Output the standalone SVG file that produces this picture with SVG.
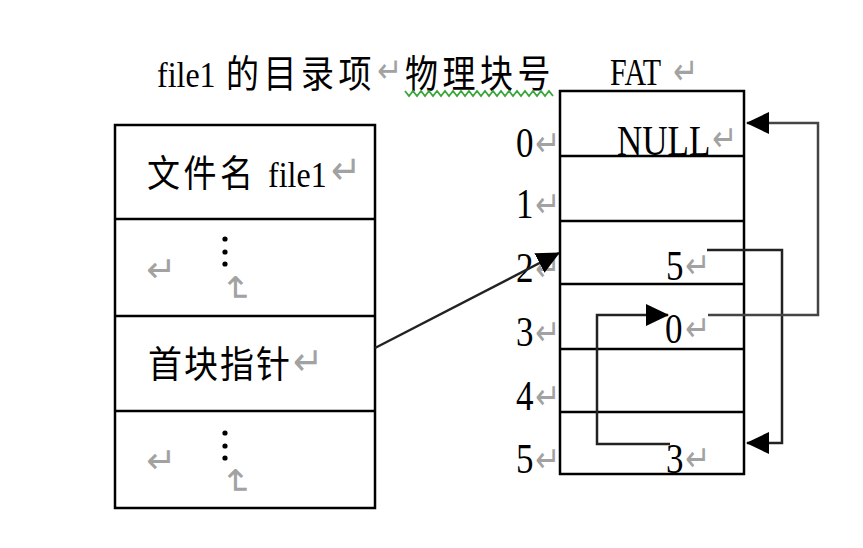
<svg xmlns="http://www.w3.org/2000/svg" width="863" height="548" viewBox="0 0 863 548">
<style>
.lat{font-family:"Liberation Serif","Times New Roman",serif;fill:#000}
.cjk{font-family:"Noto Sans CJK SC","Noto Sans CJK TC",sans-serif;fill:#000}
.ret{font-family:"DejaVu Sans",sans-serif;fill:#a2a2a2;font-size:36px}
.rs{font-size:30px}
.box{fill:none;stroke:#000;stroke-width:2.5}
.sep{stroke:#000;stroke-width:2.5}
.conn{fill:none;stroke:#222;stroke-width:2.5}
.dot{fill:#000}
</style>
<defs>
<marker id="ah" markerUnits="userSpaceOnUse" markerWidth="24" markerHeight="22" refX="22" refY="11" orient="auto">
<path d="M0,0 L23,11 L0,22 Z" fill="#000"/>
</marker>
</defs>
<rect width="863" height="548" fill="#fff"/>

<g id="title">
<text transform="translate(0,87) scale(1,1.15)">
<tspan class="lat" x="157" font-size="32">file1</tspan>
<tspan class="cjk" x="226" font-size="33" letter-spacing="4.5">的目录项</tspan>
<tspan class="ret rs" x="377" y="-4">↵</tspan>
<tspan class="cjk" x="405" y="0" font-size="33" letter-spacing="4.5">物理块号</tspan>
</text>
<polyline fill="none" stroke="#3aa63a" stroke-width="1.8" points="405,91 409,96 413,91 417,96 421,91 425,96 429,91 433,96 437,91 441,96 445,91 449,96 453,91 457,96 461,91 465,96 469,91 473,96 477,91 481,96 485,91 489,96 493,91 497,96 501,91 505,96 509,91 513,96 517,91 521,96 525,91 529,96 533,91 537,96 541,91 545,96 549,91 553,96"/>
</g>

<g id="dir-entry">
<rect class="box" x="115" y="125" width="260" height="383"/>
<line class="sep" x1="115" y1="219" x2="375" y2="219"/>
<line class="sep" x1="115" y1="316" x2="375" y2="316"/>
<line class="sep" x1="115" y1="411" x2="375" y2="411"/>
<text transform="translate(0,187) scale(1,1.12)">
<tspan class="cjk" x="147" font-size="33" letter-spacing="3.5">文件名</tspan>
<tspan class="lat" x="268" font-size="32">file1</tspan>
<tspan class="ret" x="331" y="-3">↵</tspan>
</text>
<text class="ret" x="146" y="282">↵</text>
<circle class="dot" cx="225" cy="239" r="2.6"/>
<circle class="dot" cx="225" cy="252" r="2.6"/>
<circle class="dot" cx="225" cy="264" r="2.6"/>
<text class="ret" transform="translate(224,274) rotate(90)">↵</text>
<text transform="translate(0,378) scale(1,1.1)">
<tspan class="cjk" x="148" font-size="34" letter-spacing="2">首块指针</tspan>
<tspan class="ret" x="293" y="-3">↵</tspan>
</text>
<text class="ret" x="146" y="473">↵</text>
<circle class="dot" cx="225" cy="433" r="2.6"/>
<circle class="dot" cx="225" cy="446" r="2.6"/>
<circle class="dot" cx="225" cy="458" r="2.6"/>
<text class="ret" transform="translate(224,467) rotate(90)">↵</text>
</g>

<g id="fat-labels">
<text transform="translate(0,85) scale(1,1.25)"><tspan class="lat" x="610" font-size="30">FAT</tspan><tspan class="ret rs" x="673" y="-1">↵</tspan></text>
<text transform="translate(0,157) scale(1,1.2)"><tspan class="lat" x="516" font-size="35">0</tspan><tspan class="ret rs" x="535" y="-1">↵</tspan></text>
<text transform="translate(0,218) scale(1,1.2)"><tspan class="lat" x="516" font-size="35">1</tspan><tspan class="ret rs" x="535" y="-1">↵</tspan></text>
<text transform="translate(0,282) scale(1,1.2)"><tspan class="lat" x="516" font-size="35">2</tspan><tspan class="ret rs" x="535" y="-1">↵</tspan></text>
<text transform="translate(0,346) scale(1,1.2)"><tspan class="lat" x="516" font-size="35">3</tspan><tspan class="ret rs" x="535" y="-1">↵</tspan></text>
<text transform="translate(0,410) scale(1,1.2)"><tspan class="lat" x="516" font-size="35">4</tspan><tspan class="ret rs" x="535" y="-1">↵</tspan></text>
<text transform="translate(0,473) scale(1,1.2)"><tspan class="lat" x="516" font-size="35">5</tspan><tspan class="ret rs" x="535" y="-1">↵</tspan></text>
</g>

<g id="fat">
<text transform="translate(0,155) scale(1,1.2)"><tspan class="lat" x="617" font-size="35">NULL</tspan><tspan class="ret rs" x="712" y="-3">↵</tspan></text>
<text transform="translate(0,280) scale(1,1.2)"><tspan class="lat" x="666" font-size="35">5</tspan><tspan class="ret rs" x="685" y="-2">↵</tspan></text>
<text transform="translate(0,343) scale(1,1.2)"><tspan class="lat" x="665" font-size="35">0</tspan><tspan class="ret rs" x="685" y="-2">↵</tspan></text>
<text transform="translate(0,473) scale(1,1.2)"><tspan class="lat" x="666" font-size="35">3</tspan><tspan class="ret rs" x="685" y="-2">↵</tspan></text>
<rect class="box" x="560" y="91" width="184" height="383"/>
<line class="sep" x1="560" y1="156" x2="744" y2="156"/>
<line class="sep" x1="560" y1="221" x2="744" y2="221"/>
<line class="sep" x1="560" y1="284" x2="744" y2="284"/>
<line class="sep" x1="560" y1="349" x2="744" y2="349"/>
<line class="sep" x1="560" y1="412" x2="744" y2="412"/>
</g>

<g id="connectors">
<line class="conn" x1="375" y1="348" x2="559" y2="253" marker-end="url(#ah)"/>
<polyline class="conn" points="707,250 782,250 782,443 747,443" marker-end="url(#ah)"/>
<polyline class="conn" points="708,315 818,315 818,123 747,123" marker-end="url(#ah)" style="stroke:#444"/>
<polyline class="conn" points="670,444 597,444 597,315 668,315" marker-end="url(#ah)"/>
</g>
</svg>
